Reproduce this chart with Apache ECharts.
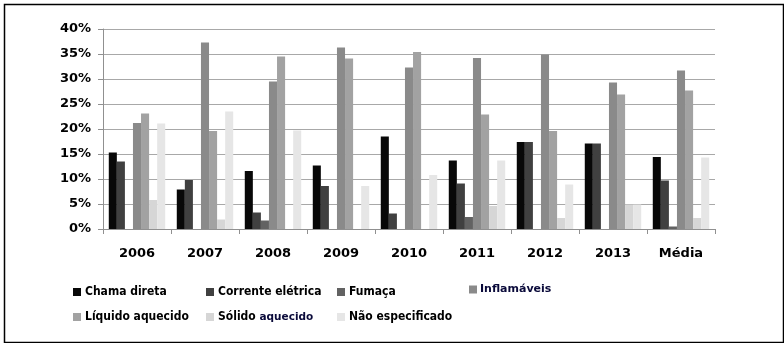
<!DOCTYPE html>
<html>
<head>
<meta charset="utf-8">
<script src="https://cdn.jsdelivr.net/npm/echarts@6/dist/echarts.min.js"></script>
<style>
html,body{margin:0;padding:0;background:#fff;}
#chart{width:784px;height:343px;}
</style>
</head>
<body>
<div id="chart"></div>
<script>
var categories = ['2006','2007','2008','2009','2010','2011','2012','2013','Média'];
var chamaDireta      = [15.3, 7.9, 11.6, 12.7, 18.5, 13.7, 17.4, 17.1, 14.4];
var correnteEletrica = [13.5, 9.8, 3.3, 8.6, 3.1, 9.1, 17.4, 17.1, 9.7];
var fumaca           = [0, 0, 1.7, 0, 0, 2.4, 0, 0, 0.5];
var inflamaveis      = [21.2, 37.3, 29.5, 36.3, 32.3, 34.2, 34.9, 29.3, 31.7];
var liquidoAquecido  = [23.1, 19.6, 34.5, 34.1, 35.4, 22.9, 19.6, 26.9, 27.7];
var solidoAquecido   = [5.8, 1.9, 0, 0, 0, 4.6, 2.2, 4.9, 2.2];
var naoEspecificado  = [21.1, 23.5, 19.7, 8.6, 10.8, 13.7, 8.9, 4.9, 14.3];
var yTicks = [0, 5, 10, 15, 20, 25, 30, 35, 40];

var seriesNames = ['Chama direta','Corrente elétrica','Fumaça','Inflamáveis','Líquido aquecido','Sólido aquecido','Não especificado'];
var seriesData = [chamaDireta, correnteEletrica, fumaca, inflamaveis, liquidoAquecido, solidoAquecido, naoEspecificado];
var colors = ['#080808','#404040','#626262','#8a8a8a','#a2a2a2','#d6d6d6','#e6e6e6'];

var legendFont = '"DejaVu Sans Condensed", Lato, sans-serif';
var altFont = '"DejaVu Sans", Verdana, sans-serif';
var legendPos = [
  [73, 286], [206, 286], [337, 286], [469, 284],
  [73, 311], [206, 311], [337, 311]
];
var legends = seriesNames.map(function(n, i){
  var lg = {
    data: [n],
    left: legendPos[i][0], top: legendPos[i][1],
    icon: 'rect', itemWidth: 8, itemHeight: 8, itemGap: 0,
    padding: 0,
    textStyle: {fontFamily: legendFont, fontWeight: 'bold', fontSize: 12, color: '#000', padding: [0,0,0,-1]}
  };
  if (i === 3) {
    lg.textStyle = {fontFamily: altFont, fontWeight: 'bold', fontSize: 11, color: '#0a0a3a', padding: [0,0,0,-2]};
  }
  if (i === 5) {
    lg.formatter = function(){ return '{a|Sólido} {b|aquecido}'; };
    lg.textStyle.rich = {
      a: {fontFamily: legendFont, fontWeight: 'bold', fontSize: 12, color: '#000'},
      b: {fontFamily: altFont, fontWeight: 'bold', fontSize: 10.5, color: '#0a0a3a'}
    };
  }
  return lg;
});

var chart = echarts.init(document.getElementById('chart'), null, {renderer: 'canvas'});
chart.setOption({
  animation: false,
  backgroundColor: '#fff',
  color: colors,
  grid: {left: 103, right: 69, top: 29, bottom: 114, containLabel: false},
  legend: legends,
  graphic: [{
    type: 'rect', left: 2, top: 2,
    shape: {width: 779, height: 338},
    style: {fill: 'none', stroke: '#000', lineWidth: 1.5},
    silent: true
  }],
  xAxis: {
    type: 'category',
    data: categories,
    axisLine: {show: true, lineStyle: {color: '#909090', width: 1}},
    axisTick: {show: true, length: 5, lineStyle: {color: '#909090'}},
    axisLabel: {color: '#000', fontWeight: 'bold', fontSize: 13, margin: 18,
      fontFamily: altFont}
  },
  yAxis: {
    type: 'value',
    min: yTicks[0], max: yTicks[yTicks.length-1], interval: 5,
    axisLine: {show: true, lineStyle: {color: '#909090', width: 1}},
    axisTick: {show: true, length: 5, lineStyle: {color: '#909090'}},
    splitLine: {show: true, lineStyle: {color: '#a8a8a8', width: 1}},
    axisLabel: {formatter: '{value}%', color: '#000', fontWeight: 'bold', fontSize: 13, margin: 12,
      fontFamily: altFont}
  },
  series: seriesNames.map(function(n, i){
    return {
      name: n, type: 'bar', data: seriesData[i],
      barGap: '0%', barCategoryGap: '17%',
      itemStyle: {color: colors[i]}
    };
  })
});
</script>
</body>
</html>
